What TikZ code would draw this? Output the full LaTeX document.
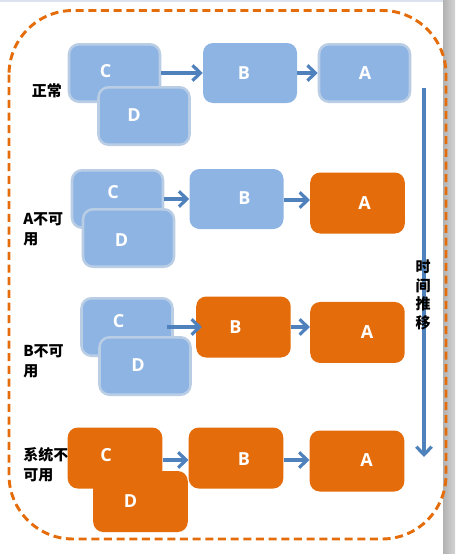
\documentclass[tikz,border=0pt]{standalone}
\usepackage{fontspec}
\newfontfamily\cjk{Noto Sans CJK SC}
\newfontfamily\boxfont{Open Sans}
\usetikzlibrary{positioning,arrows.meta}
\definecolor{boxblue}{HTML}{8EB4E3}
\definecolor{edgeblue}{HTML}{B9CDE5}
\definecolor{boxorange}{HTML}{E46C0A}
\definecolor{flowblue}{HTML}{4F81BD}
\definecolor{topline}{HTML}{DCE2EE}
\tikzset{
  blk/.style={rounded corners=7.5pt, inner sep=0pt},
  upbox/.style={blk, fill=boxblue, draw=edgeblue, line width=1.9pt, minimum width=68.25pt, minimum height=43.1pt},
  upplain/.style={blk, fill=boxblue, minimum width=70.5pt, minimum height=45pt},
  downbox/.style={blk, fill=boxorange, minimum width=70.9pt, minimum height=45.75pt},
  tag/.style={text=white, inner sep=0pt, font=\boxfont\bfseries\fontsize{13.5}{15}\selectfont},
  side/.style={anchor=west, align=left, inner sep=0pt, font=\cjk\bfseries\fontsize{11.25}{15}\selectfont},
  flow/.style={flowblue, line width=2.4pt, -{Straight Barb[length=6pt,width=11.5pt]}},
}
\begin{document}
\begin{tikzpicture}[x=0.75pt, y=-0.75pt, node distance=90.75pt]
\useasboundingbox (0,0) rectangle (455,554);
% window edges
\fill[topline] (0,0) rectangle (443,2);
\shade[left color=gray!60, right color=gray!35] (443,0) rectangle (455,554);
% outer frame
\draw[boxorange, line width=2.2pt, dash pattern=on 6pt off 3.5pt, rounded corners=48pt] (9,10.5) rectangle (446,539);

% normal
\node (s1) [side] at (31.5,90.5) {正常};
\node (c1) [upbox, label={[tag,shift={(-9,-2)}]center:C}] at (114.5,73) {};
\node (d1) [upbox, label={[tag,shift={(-10,-1)}]center:D}] at (144,116) {};
\node (b1) [upplain, right of=c1, xshift=10.9pt, label={[tag,shift={(-6,0)}]center:B}] {};
\node (a1) [upbox, right of=b1, xshift=-4.9pt, label={[tag,shift={(0.5,0)}]center:A}] {};
\draw[flow] (c1) -- (b1);
\draw[flow] (b1) -- (a1);

% A down
\node (s2) [side] at (23,229.5) {A不可\\用};
\node (c2) [upbox, label={[tag,shift={(-4.5,-7)}]center:C}] at (117.5,199) {};
\node (d2) [upbox, label={[tag,shift={(-7,2)}]center:D}] at (128.5,238) {};
\node (b2) [upplain, right of=c2, xshift=-1.5pt, label={[tag,shift={(8,-0.5)}]center:B}] {};
\node (a2) [downbox, right of=b2, yshift=-3pt, label={[tag,shift={(7,0)}]center:A}] {};
\draw[flow] (c2) -- (b2);
\draw[flow] ([yshift=-0.75pt]b2.east) -- ([yshift=-0.75pt]b2.east -| a2.west);

% B down
\node (s3) [side] at (23,361) {B不可\\用};
\node (c3) [upbox, label={[tag,shift={(-8.5,-6)}]center:C}] at (127,327) {};
\node (d3) [upbox, label={[tag,shift={(-7,-1)}]center:D}] at (145,366) {};
\node (b3) [downbox, right of=c3, xshift=-3.4pt, label={[tag,shift={(-8,0)}]center:B}] {};
\node (a3) [downbox, right of=b3, xshift=-5.25pt, yshift=-4.1pt, label={[tag,shift={(9.5,0)}]center:A}] {};
\draw[flow] ([xshift=-5.25pt]c3.east) -- ([xshift=4.5pt]b3.west);
\draw[flow] (b3) -- (b3 -| a3.west);

% all down
\node (s4) [side] at (23,464.5) {系统不\\可用};
\node (c4) [downbox, label={[tag,shift={(-9,-2.5)}]center:C}] at (115,458) {};
\node (d4) [downbox, label={[tag,shift={(-10,-0.5)}]center:D}] at (140.5,501.5) {};
\node (b4) [downbox, right of=c4, label={[tag,shift={(8,1)}]center:B}] {};
\node (a4) [downbox, right of=b4, yshift=-2.25pt, label={[tag,shift={(9.5,-1)}]center:A}] {};
\draw[flow] ([yshift=-1.5pt]c4.east) -- ([yshift=-1.5pt]b4.west);
\draw[flow] ([yshift=-1.5pt]b4.east) -- ([yshift=-1.5pt]b4.east -| a4.west);

% time axis
\coordinate (t0) at (424,88);
\coordinate (t1) at (424,457);
\draw[flow] (t0) -- (t1);
\node (tl) [side, anchor=center, align=center, font=\cjk\bfseries\fontsize{11.25}{13.9}\selectfont] at (423,295) {时\\间\\推\\移};
\end{tikzpicture}
\end{document}
